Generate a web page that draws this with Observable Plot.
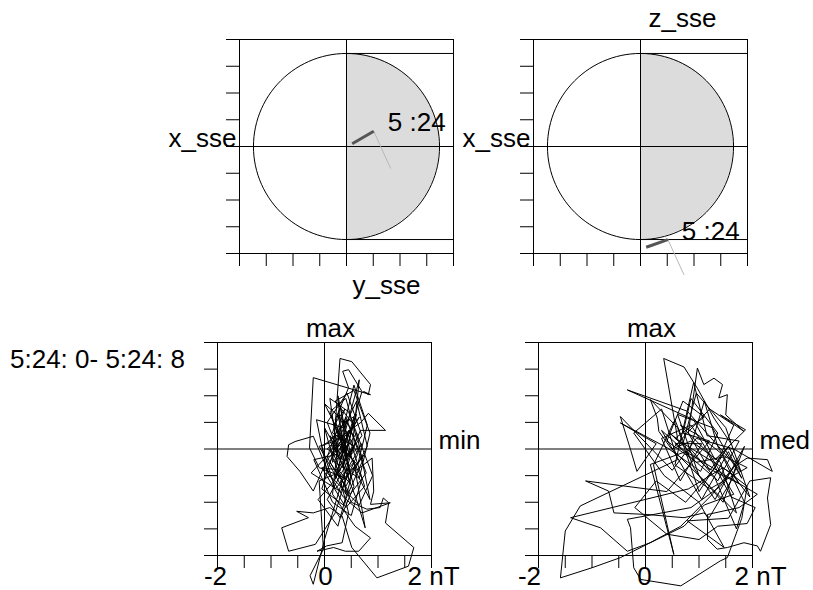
<!DOCTYPE html>
<html><head><meta charset="utf-8">
<script src="https://cdn.jsdelivr.net/npm/d3@7"></script>
<script src="https://cdn.jsdelivr.net/npm/@observablehq/plot@0.6"></script>
<style>
html,body{margin:0;padding:0;background:#fff;}
#chart{position:relative;width:813px;height:590px;overflow:hidden;font-family:"Liberation Sans",Arial,Helvetica,sans-serif;}
#range{position:absolute;left:10px;top:346px;font-size:26px;line-height:26px;white-space:pre;color:#000;}
</style></head><body>
<div id="chart"><div id="range"></div></div>
<script>
const FONT = '"Liberation Sans", Arial, Helvetica, sans-serif';

// ---- text ----
const timeRange = "5:24: 0- 5:24: 8";
const timeLabel = "5 :24";
const sseLabels = {hTop: "y_sse", hBottom: "z_sse", v: "x_sse"};
const hodoLabels = {top: "max", left: "min", right: "med"};

// ---- ticks ----
const sseTicks = [-1.15, -0.8625, -0.575, -0.2875, 0, 0.2875, 0.575, 0.8625, 1.15];
const nTTicks = [-2, -1.5, -1, -0.5, 0, 0.5, 1, 1.5, 2];
const nTTickValues = [-2, 0, 2];
const nTTickLabels = ["-2", "0", "2 nT"];

// ---- spacecraft position panels (y_sse/x_sse and z_sse/x_sse) ----
const orbitYX = [[0.061, 0.029], [0.293, 0.164]];
const dirYX   = [[0.293, 0.164], [0.473, -0.233]];
const orbitZX = [[0.061, -1.083], [0.294, -1.0]];
const dirZX   = [[0.294, -1.0], [0.466, -1.376]];

// ---- hodogram: min (x) vs max (y), nT ----
const minMax = [
[0.30,-0.20],[0.45,0.35],[0.20,-0.55],[0.55,0.60],[0.35,-0.35],[0.10,0.25],[0.50,-0.15],[0.25,1.00],[0.40,-0.85],[0.15,-0.40],
[-0.10,0.05],[0.20,0.15],[0.68,0.50],[0.82,0.67],[1.14,0.35],[0.67,0.35],[0.40,-0.30],[0.05,-0.95],[0.30,-1.30],[0.55,-0.70],
[0.20,0.55],[0.45,1.15],[0.34,1.46],[0.45,1.49],[0.70,1.08],[0.61,0.77],[0.45,0.10],[0.15,-0.25],[0.29,1.70],[0.51,1.64],
[0.86,1.21],[0.82,1.02],[0.73,1.08],[0.86,1.02],[-0.21,1.34],[-0.28,0.02],[-0.10,-0.35],[0.40,-0.55],[0.75,-0.10],[0.20,-0.75],
[-0.05,0.05],[0.30,0.30],[0.60,-0.40],[0.89,-0.17],[0.92,-0.79],[0.86,-1.04],[1.23,-1.01],[0.70,-1.20],[0.35,-0.90],[0.10,-0.50],
[-0.21,0.24],[-0.55,0.14],[-0.67,0.08],[-0.70,-0.14],[-0.46,-0.42],[-0.21,-0.79],[0.05,-0.20],[0.40,0.20],[0.65,0.60],[0.25,-0.05],
[0.00,0.40],[0.15,-0.15],[0.50,-1.00],[0.79,-1.13],[1.04,-1.10],[1.10,-0.92],[1.20,-1.01],[1.14,-1.39],[1.67,-1.85],[1.57,-2.20],
[0.98,-2.42],[0.51,-1.85],[0.33,-1.26],[0.10,-1.10],[-0.21,-1.20],[-0.52,-1.17],[-0.30,-1.29],[-0.80,-1.48],[-0.67,-1.92],[-0.17,-1.79],
[0.20,-1.20],[0.45,-0.40],[0.30,0.80],[0.15,0.30],[0.55,0.05],[0.25,-0.45],[-0.10,-0.60],[-0.02,-1.88],[-0.27,-2.38],[-0.21,-2.54],
[0.00,-1.70],[0.30,-0.70],[0.60,0.20],[0.40,0.95],[0.10,0.70],[0.35,0.00],[0.20,-0.25],[0.65,-0.55],[0.85,0.30],[0.55,1.10],
[0.20,0.90],[0.55,0.45],[0.15,-0.05],[0.30,-0.40],[-0.05,-0.35],[0.40,-1.10],[0.75,-0.70],[0.50,0.10],[0.25,0.20],[0.05,0.00],
[0.35,-0.20],[0.60,0.65],[0.28,0.40],[0.15,-0.85],[0.57,-1.45],[0.86,-1.67],[0.64,-1.92],[0.39,-1.92],[0.17,-1.85],[-0.14,-1.92],
[0.04,-1.82],[0.33,-1.76],[0.45,-1.20],[0.30,-0.60],[0.70,0.10],[0.45,-0.15],[0.18,0.45],[0.38,0.75],[0.05,-0.15],[0.28,-0.55],
[0.55,-0.25],[0.76,-1.48],[0.60,-0.95],[0.35,-0.30],[0.10,0.15],[0.42,0.55],[0.22,-0.35],[0.48,-0.65],[0.30,0.05],
[0.62,-0.30],[0.80,0.45],[0.55,1.20],[0.35,0.40],[-0.15,0.55],[0.05,-0.45],[0.65,-1.05],[0.90,-0.50],[0.45,0.70],[0.10,0.95],
[0.25,-0.10],[-0.20,-0.20],[0.15,-1.00],[0.50,-1.25],[0.70,-0.55],[0.30,0.25],[0.00,0.85],[0.45,0.45],[0.72,-0.20],[0.35,-1.05],
[-0.05,-0.75],[0.20,0.05],[0.60,0.90],[0.80,0.05],[0.40,-0.70],[0.10,-0.25],[0.38,0.30],[0.65,1.30],[0.52,0.05],[0.18,-0.60],
[-0.12,-0.95],[0.25,-1.45],[0.55,-0.35],[0.85,-0.95],[0.60,0.30],[0.30,-0.15],[0.05,0.50],[0.42,1.05],[0.70,0.25],[0.22,-0.40],
[0.48,-0.85],[0.78,-0.45],[0.40,0.60],[0.12,-0.05],[-0.25,-0.45],[0.30,-0.80],[0.62,-0.10],[0.25,0.65],[0.50,-0.55],[0.35,0.10]
];

// ---- hodogram: med (x) vs max (y), nT ----
const medMax = [
[0.60,0.20],[0.34,1.70],[0.72,1.54],[0.97,1.14],[1.28,0.58],[1.60,0.10],[1.20,-0.40],[0.80,0.30],[0.97,1.52],[1.09,1.21],
[1.28,1.33],[1.44,1.21],[1.37,0.96],[1.53,1.02],[1.50,0.64],[1.84,0.33],[1.40,0.64],[1.87,0.36],[1.30,-0.20],[0.90,0.55],
[-0.34,1.11],[0.53,0.80],[0.78,0.71],[1.78,-0.42],[1.55,0.05],[1.00,-0.80],[0.60,0.40],[0.09,0.93],[0.22,0.58],[0.25,0.33],
[0.47,0.02],[1.10,-0.60],[1.45,-1.00],[1.70,-0.30],[1.90,-0.17],[2.28,-0.20],[2.37,-0.42],[1.65,0.00],[0.95,0.20],[0.50,-0.40],
[-0.47,0.61],[-0.28,-0.01],[-0.16,-0.42],[0.20,0.10],[-0.47,0.49],[0.41,0.02],[1.03,-0.42],[1.35,0.30],[0.85,0.95],[0.70,0.30],
[1.20,0.15],[0.40,-0.80],[-1.12,-0.60],[-0.69,-0.79],[-0.59,-1.20],[0.03,-1.23],[0.72,-1.29],[1.09,-1.20],[1.19,-1.29],[1.60,-0.60],
[1.85,0.05],[1.30,-0.95],[0.90,-0.35],[0.55,0.55],[0.15,-0.30],[0.53,-1.98],[0.09,-0.29],[0.75,-0.05],[1.50,-0.50],[2.09,-0.85],
[1.75,-1.10],[1.16,-1.23],[1.16,-1.70],[1.34,-1.88],[1.53,-1.85],[1.84,-1.76],[2.09,-1.82],[2.15,-1.92],[2.34,-1.42],[2.28,-0.92],
[2.34,-0.54],[1.95,-0.60],[1.55,-1.30],[0.78,-1.35],[1.47,-1.85],[1.00,-1.00],[0.35,-0.50],[-0.22,0.30],[0.30,0.75],[0.60,-0.20],
[-1.22,-1.07],[-1.50,-1.54],[-1.59,-2.42],[-1.00,-2.23],[-0.47,-2.04],[0.03,-1.79],[0.66,-1.45],[1.25,-0.85],[1.75,-0.20],[1.40,-0.70],
[0.85,-1.10],[-0.34,-1.32],[-0.28,-1.48],[-0.22,-2.23],[-0.09,-2.45],[0.66,-2.57],[1.40,-2.10],[1.53,-2.04],[1.80,-1.30],[1.90,-0.70],
[1.45,-0.35],[0.80,-0.75],[-1.40,-1.29],[-0.84,-1.48],[-0.34,-1.92],[0.09,-1.76],[0.72,-1.45],[1.10,-1.05],[1.65,-0.85],[1.20,-0.10],
[0.85,0.45],[0.30,0.20],[0.65,-0.60],[1.05,0.10],[0.55,0.10],[1.30,-0.55],[1.70,-1.50],[1.85,-1.00],[1.45,-0.15],[0.95,-0.25],
[0.40,0.15],[0.70,0.90],[1.10,0.60],[0.55,0.20],[1.60,-0.45],[1.95,-0.90],[1.50,0.40],[0.95,1.05],[0.70,0.10],[0.45,0.30],
[1.15,-0.35],[1.75,-0.65],[1.35,0.05],[1.10,0.90],[0.80,-0.10],[0.30,0.35],[1.05,-0.95],[1.55,-0.05],[1.80,-0.55],[1.25,0.40],
[0.60,0.65],[1.00,-0.50],[1.70,-1.20],[1.40,-0.25],[0.85,0.15],[0.50,0.00],[1.20,0.75],[1.65,0.45],[1.30,-0.35],[0.75,-1.00],
[0.20,-0.60],[-0.20,-1.10],[0.40,-1.60],[1.00,-1.70],[1.35,-1.45],[1.90,-1.40],[2.05,-1.10],[1.60,-0.90],[1.15,-0.05],[0.65,0.45],
[1.00,0.25],[1.50,-0.15],[1.90,-0.35],[1.20,-0.75],[0.55,-0.30],[0.90,1.25],[1.15,0.25],[1.75,0.15],[1.35,-0.60],[0.80,0.05]
];

// ---- geometry helpers (unit circle, not data) ----
const rad = a => a * Math.PI / 180;
const circle = d3.range(0, 361, 3).map(a => [Math.cos(rad(a)), Math.sin(rad(a))]);
const halfDisc = d3.range(-90, 91, 3).map(a => [Math.cos(rad(a)), Math.sin(rad(a))]);
const X = d => d[0], Y = d => d[1];

const chart = document.getElementById("chart");
document.getElementById("range").textContent = timeRange;

function panel(pos, opts, marks) {
  const svg = Plot.plot({
    width: pos.w, height: pos.h,
    marginLeft: pos.ml, marginTop: pos.mt, marginRight: pos.mr, marginBottom: pos.mb,
    style: {overflow: "visible", fontFamily: FONT, fontSize: "26px", color: "black", background: "transparent"},
    x: {domain: opts.domain, ticks: opts.ticks, tickSize: 13, tickFormat: () => "", label: null},
    y: {domain: opts.domain, ticks: opts.ticks, tickSize: 13, tickFormat: () => "", label: null},
    marks
  });
  svg.style.position = "absolute";
  svg.style.left = pos.left + "px";
  svg.style.top = pos.top + "px";
  chart.appendChild(svg);
}

const edge = sseTicks[sseTicks.length - 1];

function sseMarks(orbit, dir, topLabel, bottomLabel) {
  const m = [
    Plot.areaX(halfDisc, {y: Y, x1: () => 0, x2: X, fill: "#dcdcdc"}),
    Plot.line(circle, {x: X, y: Y, stroke: "black", strokeWidth: 1}),
    Plot.ruleY([1, -1], {x1: () => 0, x2: () => edge, stroke: "black", strokeWidth: 1}),
    Plot.ruleX([0], {stroke: "black", strokeWidth: 1}),
    Plot.ruleY([0], {stroke: "black", strokeWidth: 1}),
    Plot.frame({stroke: "black", strokeWidth: 1}),
    Plot.line(dir, {x: X, y: Y, stroke: "#b8b8b8", strokeWidth: 1}),
    Plot.line(orbit, {x: X, y: Y, stroke: "#555555", strokeWidth: 3, strokeLinecap: "butt"}),
    Plot.text([orbit[1]], {x: X, y: Y, text: () => timeLabel, textAnchor: "start", lineAnchor: "bottom", dx: 14, fontSize: 26}),
    Plot.text([sseLabels.v], {x: () => -edge, y: () => 0, text: d => d, textAnchor: "end", lineAnchor: "bottom", dx: -3, fontSize: 26})
  ];
  if (bottomLabel) m.push(Plot.text([bottomLabel], {x: () => 0, y: () => -edge, text: d => d, textAnchor: "start", lineAnchor: "bottom", dx: 6, dy: 40, fontSize: 26}));
  if (topLabel) m.push(Plot.text([topLabel], {x: () => 0, y: () => edge, text: d => d, textAnchor: "start", lineAnchor: "bottom", dx: 8, dy: -12.5, fontSize: 26}));
  return m;
}

function hodoMarks(path, rightLabel, tickDx) {
  return [
    Plot.ruleX([0], {stroke: "black", strokeWidth: 1}),
    Plot.ruleY([0], {stroke: "black", strokeWidth: 1}),
    Plot.frame({stroke: "black", strokeWidth: 1}),
    Plot.line(path, {x: X, y: Y, stroke: "black", strokeWidth: 1, strokeLinejoin: "miter"}),
    Plot.text([hodoLabels.top], {x: () => 0, y: () => 2, text: d => d, textAnchor: "middle", lineAnchor: "bottom", dx: 6, dy: -6, fontSize: 26}),
    Plot.text([rightLabel], {x: () => 2, y: () => 0, text: d => d, textAnchor: "start", lineAnchor: "bottom", dx: 7, fontSize: 26}),
    ...nTTickValues.map((v, i) => Plot.text([nTTickLabels[i]], {x: () => v, y: () => -2, text: d => d, textAnchor: "middle", lineAnchor: "bottom", dx: tickDx[i], dy: 29, fontSize: 26}))
  ];
}

panel({left: 150, top: 0, w: 310, h: 300, ml: 89, mt: 39, mr: 7, mb: 47},
      {domain: [-edge, edge], ticks: sseTicks},
      sseMarks(orbitYX, dirYX, null, sseLabels.hTop));

panel({left: 450, top: 0, w: 320, h: 300, ml: 83, mt: 39, mr: 23, mb: 47},
      {domain: [-edge, edge], ticks: sseTicks},
      sseMarks(orbitZX, dirZX, sseLabels.hBottom, null));

panel({left: 190, top: 300, w: 290, h: 290, ml: 27, mt: 42, mr: 49, mb: 35},
      {domain: [-2, 2], ticks: nTTicks},
      hodoMarks(minMax, hodoLabels.left, [-2, 1, 2]));

panel({left: 500, top: 300, w: 310, h: 290, ml: 38, mt: 42, mr: 58, mb: 35},
      {domain: [-2, 2], ticks: nTTicks},
      hodoMarks(medMax, hodoLabels.right, [-9, -1, 8]));
</script>
</body></html>
